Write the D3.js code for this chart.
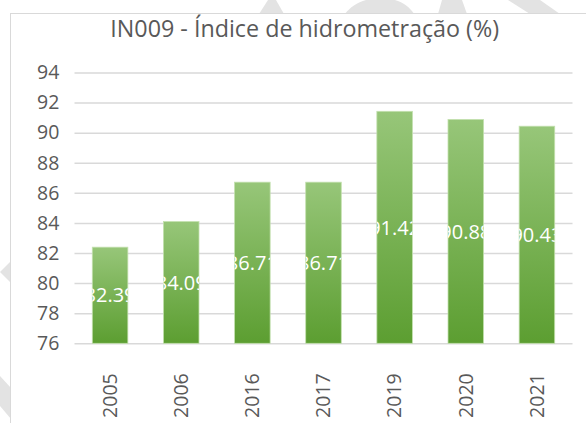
<!DOCTYPE html>
<html>
<head>
<meta charset="utf-8">
<script src="https://cdn.jsdelivr.net/npm/d3@7"></script>
<style>
  html, body { margin: 0; padding: 0; background: #fff; }
  svg { display: block; font-family: 'Open Sans', sans-serif; }
</style>
</head>
<body>
<svg id="chart"></svg>
<script>
const title = 'IN009 - Índice de hidrometração (%)';
const years = ['2005', '2006', '2016', '2017', '2019', '2020', '2021'];
const values = [82.39, 84.09, 86.71, 86.71, 91.42, 90.88, 90.43];
const yTicks = [76, 78, 80, 82, 84, 86, 88, 90, 92, 94];

const width = 586;
const height = 423;
const plot = { left: 74.5, right: 572.5, top: 72.5, bottom: 343.3 };
const textColor = '#595959';
const gridColor = '#d9d9d9';
const fontSize = 19.5;

const svg = d3.select('#chart').attr('width', width).attr('height', height);

// faint watermark behind the chart frame
const mark = svg.append('g').attr('fill', '#e3e3e3');
mark.append('path').attr('d', 'M259,14L268,0H276L284,14Z');
mark.append('path').attr('d', 'M345,14C352,4 366,-2 380,-2C396,-2 408,4 414,14Z');
mark.append('path').attr('d', 'M438,14L442,0H462L467,14Z');
mark.append('path').attr('d', 'M508,0H540L560,14H530Z');
mark.append('path').attr('d', 'M0,272L11,261V283Z');
mark.append('path').attr('d', 'M0,376L11,388V419L0,406Z');

// chart area + frame
svg.append('rect')
  .attr('x', 10.5).attr('y', 13.5)
  .attr('width', width).attr('height', height)
  .attr('fill', '#fff')
  .attr('stroke', gridColor)
  .attr('stroke-width', 1);

// Title
const titleText = svg.append('text')
  .attr('x', 304.7)
  .attr('y', 37.3)
  .attr('text-anchor', 'middle')
  .attr('fill', textColor)
  .attr('font-size', 19)
  .text(title);
const tw = titleText.node().getComputedTextLength();
titleText.attr('font-size', 19 * 389 / tw);

// X
const xScale = d3.scaleBand()
  .domain(years)
  .range([plot.left, plot.right])
  .paddingInner(0.5)
  .paddingOuter(0.25);

// Y
const yScale = d3.scaleLinear()
  .domain([76, 94])
  .range([plot.bottom, plot.top]);

const yAxis = svg.append('g')
  .attr('transform', `translate(${plot.left},0)`)
  .call(d3.axisLeft(yScale)
    .tickValues(yTicks)
    .tickFormat(d3.format('d'))
    .tickSize(-(plot.right - plot.left))
    .tickPadding(15.2));
yAxis.select('.domain').remove();
yAxis.selectAll('line')
  .attr('stroke', gridColor)
  .attr('stroke-width', 1.5);
yAxis.selectAll('text')
  .attr('fill', textColor)
  .attr('font-size', fontSize)
  .attr('font-family', "'Open Sans', sans-serif");

// Bars
const defs = svg.append('defs');
const grad = defs.append('linearGradient')
  .attr('id', 'barFill')
  .attr('x1', 0).attr('y1', 0)
  .attr('x2', 0).attr('y2', 1);
grad.append('stop').attr('offset', '0%').attr('stop-color', '#97c679');
grad.append('stop').attr('offset', '100%').attr('stop-color', '#5c9e31');

const rows = years.map((year, i) => ({ year, value: values[i] }));

defs.selectAll('clipPath')
  .data(rows)
  .join('clipPath')
  .attr('id', (d, i) => `clip${i}`)
  .append('rect')
  .attr('x', (d) => xScale(d.year))
  .attr('y', (d) => yScale(d.value))
  .attr('width', xScale.bandwidth())
  .attr('height', (d) => yScale(76) - yScale(d.value));

svg.append('g')
  .selectAll('rect')
  .data(rows)
  .join('rect')
  .attr('x', (d) => xScale(d.year))
  .attr('y', (d) => yScale(d.value))
  .attr('width', xScale.bandwidth())
  .attr('height', (d) => yScale(76) - yScale(d.value))
  .attr('fill', 'url(#barFill)')
  .attr('stroke', '#c3e0ae')
  .attr('stroke-width', 0.8);

// Value labels (white, clipped to the bar like the original)
svg.append('g')
  .selectAll('text')
  .data(rows)
  .join('text')
  .attr('clip-path', (d, i) => `url(#clip${i})`)
  .attr('x', (d) => xScale(d.year) + xScale.bandwidth() / 2)
  .attr('y', (d) => (yScale(d.value) + yScale(76)) / 2)
  .attr('dy', '0.36em')
  .attr('text-anchor', 'middle')
  .attr('fill', '#fff')
  .attr('font-size', 20)
  .text((d) => d.value);

// Year labels, rotated
svg.append('g')
  .selectAll('text')
  .data(years)
  .join('text')
  .attr('transform', (d) =>
    `translate(${xScale(d) + xScale.bandwidth() / 2 + 6.8},373.3) rotate(-90)`)
  .attr('text-anchor', 'end')
  .attr('fill', textColor)
  .attr('font-size', fontSize)
  .text((d) => d);
</script>
</body>
</html>
